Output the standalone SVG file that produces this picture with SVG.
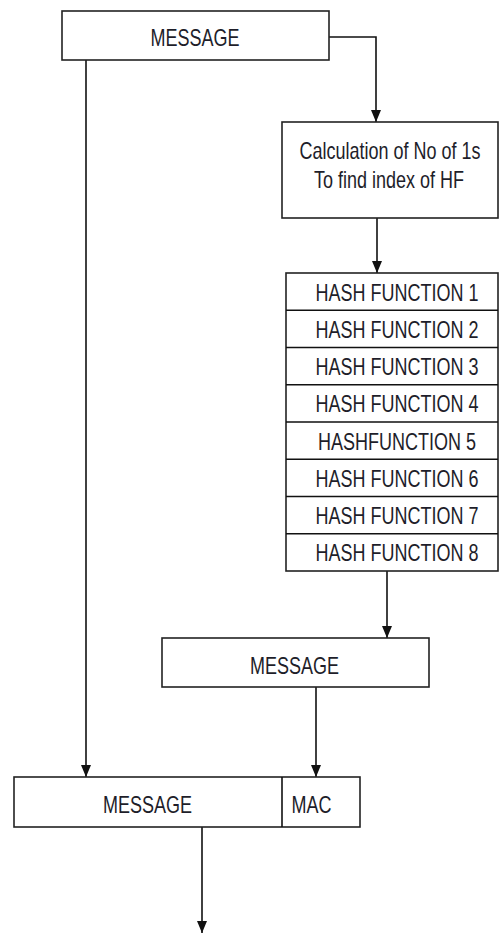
<svg xmlns="http://www.w3.org/2000/svg" width="499" height="934" viewBox="0 0 499 934">
<style>
.box{fill:#fff;stroke:#222;stroke-width:1.6}
.t{font-family:"Liberation Sans",Arial,sans-serif;font-size:18px;fill:#1e1e2a;text-anchor:middle}
.c{fill:none;stroke:#111;stroke-width:1.6}
</style>
<defs>
<marker id="ah" markerUnits="userSpaceOnUse" viewBox="0 0 12 10" markerWidth="12" markerHeight="10" refX="12" refY="5" orient="auto">
<path d="M0,0 L12,5 L0,10 z" fill="#111"/>
</marker>
</defs>
<rect width="499" height="934" fill="#fff"/>
<g id="connectors">
<path class="c" d="M329,37 H376 V122" marker-end="url(#ah)"/>
<path class="c" d="M86,60 V777" marker-end="url(#ah)"/>
<path class="c" d="M377,218 V273" marker-end="url(#ah)"/>
<path class="c" d="M387,571 V638" marker-end="url(#ah)"/>
<path class="c" d="M316,687 V777" marker-end="url(#ah)"/>
<path class="c" d="M202,827 V933" marker-end="url(#ah)"/>
</g>
<g id="message-top">
<rect class="box" x="62" y="11" width="267" height="49"/>
<text class="t" transform="translate(195,46) scale(1,1.3)">MESSAGE</text>
</g>
<g id="calc">
<rect class="box" x="282" y="122" width="216" height="96"/>
<text class="t" transform="translate(390,159) scale(1,1.3)">Calculation of No of 1s</text>
<text class="t" transform="translate(389,188) scale(1,1.3)">To find index of HF</text>
</g>
<g id="hash-functions">
<rect class="box" x="286" y="273" width="212" height="298"/>
<path class="c" d="M286,310.25 H498 M286,347.5 H498 M286,384.75 H498 M286,422 H498 M286,459.25 H498 M286,496.5 H498 M286,533.75 H498"/>
<text class="t" transform="translate(397,300.7) scale(1,1.3)">HASH FUNCTION 1</text>
<text class="t" transform="translate(397,337.95) scale(1,1.3)">HASH FUNCTION 2</text>
<text class="t" transform="translate(397,375.2) scale(1,1.3)">HASH FUNCTION 3</text>
<text class="t" transform="translate(397,412.45) scale(1,1.3)">HASH FUNCTION 4</text>
<text class="t" transform="translate(397,449.7) scale(1,1.3)">HASHFUNCTION 5</text>
<text class="t" transform="translate(397,486.95) scale(1,1.3)">HASH FUNCTION 6</text>
<text class="t" transform="translate(397,524.2) scale(1,1.3)">HASH FUNCTION 7</text>
<text class="t" transform="translate(397,561.45) scale(1,1.3)">HASH FUNCTION 8</text>
</g>
<g id="message-mid">
<rect class="box" x="162" y="638" width="267" height="49"/>
<text class="t" transform="translate(294.5,674) scale(1,1.3)">MESSAGE</text>
</g>
<g id="message-mac">
<rect class="box" x="14" y="777" width="346" height="50"/>
<path class="c" d="M282,777 V827"/>
<text class="t" transform="translate(147.5,813) scale(1,1.3)">MESSAGE</text>
<text class="t" transform="translate(311.5,813) scale(1,1.3)">MAC</text>
</g>
</svg>
